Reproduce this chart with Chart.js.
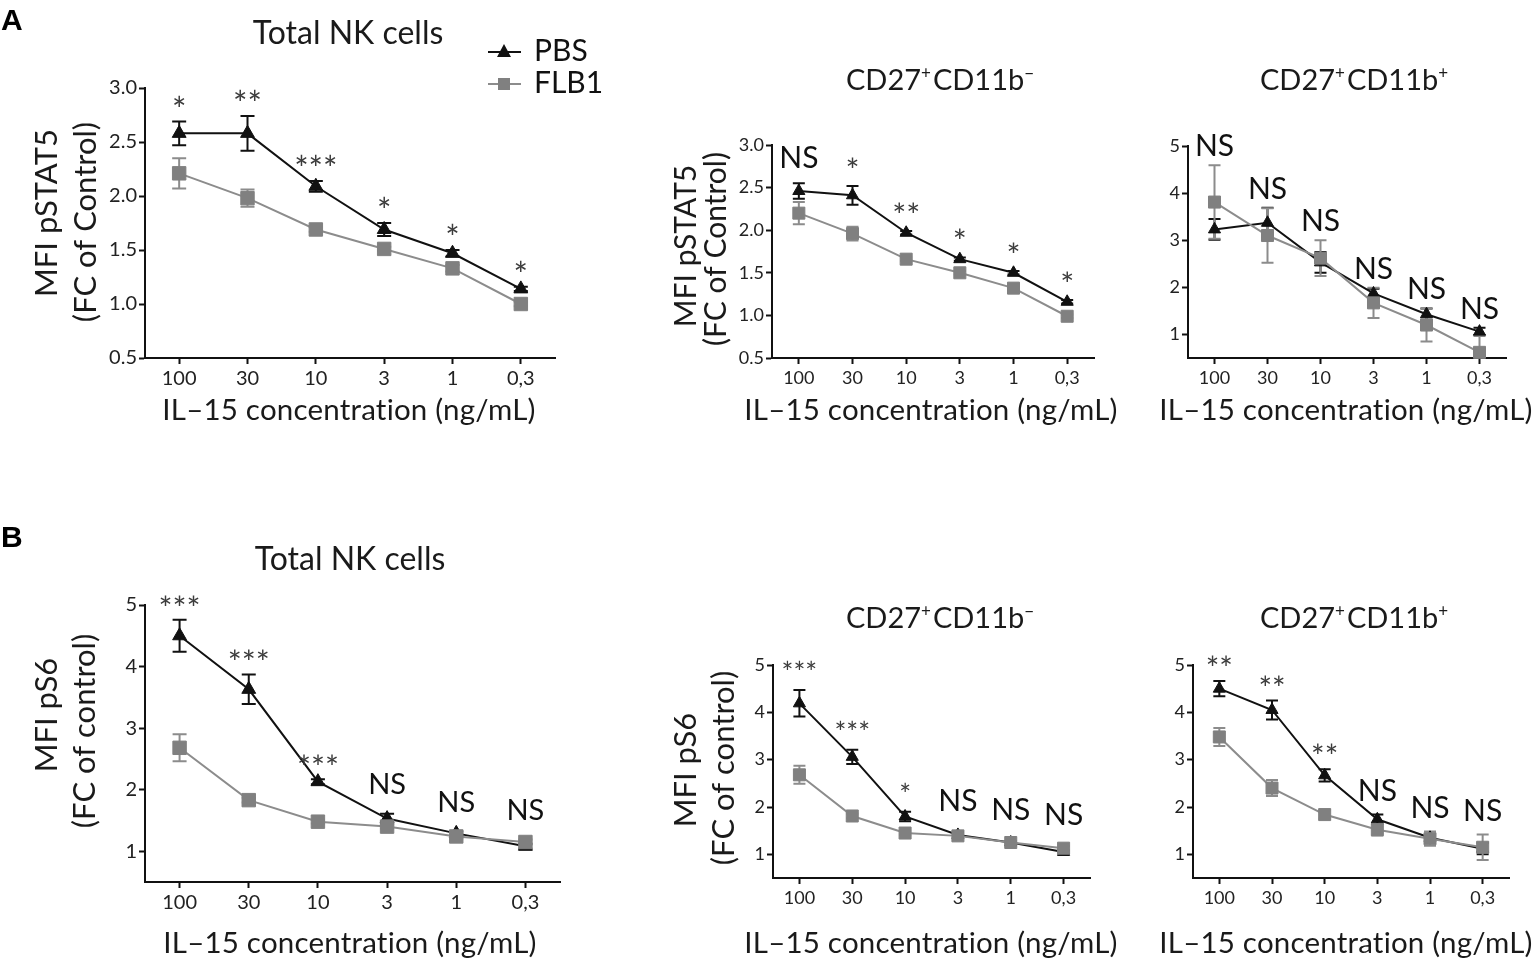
<!DOCTYPE html>
<html><head><meta charset="utf-8">
<script src="https://cdn.jsdelivr.net/npm/chart.js@4.4.1/dist/chart.umd.min.js"></script>
<style>
html,body{margin:0;padding:0;background:#fff;}
#wrap{position:relative;width:1535px;height:970px;overflow:hidden;background:#fff;}
canvas{position:absolute;left:0;top:0;}
</style></head><body><div id="wrap"></div>
<script>
// ---------- data ----------
const doses = ['100', '30', '10', '3', '1', '0,3'];
const seriesNames = ['PBS', 'FLB1'];
const ticksHalf = [0.5, 1.0, 1.5, 2.0, 2.5, 3.0];
const ticksUnit = [1, 2, 3, 4, 5];

// A: pSTAT5, total NK
const a1Pbs    = [2.58, 2.58, 2.09, 1.69, 1.47, 1.14];
const a1PbsErr = [0.11, 0.16, 0.05, 0.06, 0.03, 0.02];
const a1Flb    = [2.21, 1.98, 1.69, 1.51, 1.33, 1.00];
const a1FlbErr = [0.14, 0.08, 0.02, 0.02, 0.03, 0.02];
const a1Sig    = ['*', '**', '***', '*', '*', '*'];
// A: pSTAT5, CD27+ CD11b-
const a2Pbs    = [2.46, 2.41, 1.97, 1.66, 1.50, 1.16];
const a2PbsErr = [0.09, 0.11, 0.02, 0.02, 0.02, 0.02];
const a2Flb    = [2.20, 1.96, 1.66, 1.50, 1.32, 0.99];
const a2FlbErr = [0.13, 0.08, 0.02, 0.02, 0.02, 0.02];
const a2Sig    = ['NS', '*', '**', '*', '*', '*'];
// A: pSTAT5, CD27+ CD11b+
const a3Pbs    = [3.23, 3.37, 2.53, 1.87, 1.43, 1.06];
const a3PbsErr = [0.22, 0.32, 0.22, 0.10, 0.12, 0.08];
const a3Flb    = [3.81, 3.10, 2.62, 1.67, 1.20, 0.62];
const a3FlbErr = [0.78, 0.58, 0.38, 0.32, 0.35, 0.37];
const a3Sig    = ['NS', 'NS', 'NS', 'NS', 'NS', 'NS'];
// B: pS6, total NK
const b1Pbs    = [4.50, 3.63, 2.13, 1.53, 1.29, 1.08];
const b1PbsErr = [0.26, 0.24, 0.04, 0.08, 0.03, 0.04];
const b1Flb    = [2.68, 1.83, 1.48, 1.40, 1.24, 1.15];
const b1FlbErr = [0.22, 0.04, 0.03, 0.03, 0.03, 0.04];
const b1Sig    = ['***', '***', '***', 'NS', 'NS', 'NS'];
// B: pS6, CD27+ CD11b-
const b2Pbs    = [4.19, 3.06, 1.80, 1.41, 1.25, 1.05];
const b2PbsErr = [0.28, 0.15, 0.10, 0.06, 0.03, 0.03];
const b2Flb    = [2.68, 1.81, 1.45, 1.39, 1.25, 1.13];
const b2FlbErr = [0.19, 0.05, 0.04, 0.04, 0.03, 0.04];
const b2Sig    = ['***', '***', '*', 'NS', 'NS', 'NS'];
// B: pS6, CD27+ CD11b+
const b3Pbs    = [4.50, 4.05, 2.67, 1.74, 1.35, 1.12];
const b3PbsErr = [0.16, 0.20, 0.13, 0.10, 0.05, 0.12];
const b3Flb    = [3.48, 2.40, 1.84, 1.52, 1.33, 1.15];
const b3FlbErr = [0.19, 0.17, 0.09, 0.12, 0.15, 0.27];
const b3Sig    = ['**', '**', '**', 'NS', 'NS', 'NS'];

// ---------- layout ----------
const W = 1535, H = 970;
const FONT = "Lato, 'Open Sans', sans-serif";
const INK = '#111111';
const GREY_LINE = '#8c8c8c';
const GREY_FILL = '#808080';

const xTitleText = 'IL\u201315 concentration (ng/mL)';
const titleTotal = [['Total NK cells', 0]];
const titleNeg = [['CD27', 0], ['+', 1], ['CD11b', 0], ['\u2212', 1]];
const titlePos = [['CD27', 0], ['+', 1], ['CD11b', 0], ['+', 1]];

const panels = [
  { pbs: a1Pbs, pbsErr: a1PbsErr, flb: a1Flb, flbErr: a1FlbErr, sig: a1Sig,
    yMin: 0.5, yMax: 3.0, yTicks: ticksHalf, dec: 1,
    area: { l: 145, t: 88, r: 555, b: 358 },
    title: titleTotal, titleX: 348, titleY: 32, titleSize: 32,
    ytitle: ['MFI pSTAT5', '(FC of Control)'], ytX: [47, 86], ytY: [213, 222], ytSize: 31,
    xtX: 349, xtY: 410, xtSize: 29.5, tickSize: 20,
    tri: 8, sq: 9.5, cap: 7, starGap: 20, nsGap: 22, starSize: 34, nsSize: 29,
    legend: true, letter: 'A', letterY: 30 },
  { pbs: a2Pbs, pbsErr: a2PbsErr, flb: a2Flb, flbErr: a2FlbErr, sig: a2Sig,
    yMin: 0.5, yMax: 3.0, yTicks: ticksHalf, dec: 1,
    area: { l: 772, t: 145, r: 1094, b: 358 },
    title: titleNeg, titleX: 941, titleY: 80, titleSize: 29,
    ytitle: ['MFI pSTAT5', '(FC of Control)'], ytX: [686, 716], ytY: [246, 249], ytSize: 30,
    xtX: 931, xtY: 410, xtSize: 29.5, tickSize: 18,
    tri: 7, sq: 8.5, cap: 6, starGap: 24, nsGap: 26, starSize: 33, nsSize: 30 },
  { pbs: a3Pbs, pbsErr: a3PbsErr, flb: a3Flb, flbErr: a3FlbErr, sig: a3Sig,
    yMin: 0.5, yMax: 5, yTicks: ticksUnit, dec: 0,
    area: { l: 1188, t: 146, r: 1506, b: 358 },
    title: titlePos, titleX: 1355, titleY: 80, titleSize: 29,
    ytitle: null,
    xtX: 1346, xtY: 410, xtSize: 29.5, tickSize: 18,
    tri: 7, sq: 8.5, cap: 6, starGap: 22, nsGap: 20, starSize: 30, nsSize: 30 },
  { pbs: b1Pbs, pbsErr: b1PbsErr, flb: b1Flb, flbErr: b1FlbErr, sig: b1Sig,
    yMin: 0.5, yMax: 5, yTicks: ticksUnit, dec: 0,
    area: { l: 145, t: 605, r: 560, b: 882 },
    title: titleTotal, titleX: 350, titleY: 558, titleSize: 32,
    ytitle: ['MFI pS6', '(FC of control)'], ytX: [47, 85], ytY: [715, 731], ytSize: 31,
    xtX: 350, xtY: 943, xtSize: 29.5, tickSize: 20,
    tri: 8, sq: 9.5, cap: 7, starGap: 20, nsGap: 30, starSize: 33, nsSize: 29,
    letter: 'B', letterY: 547 },
  { pbs: b2Pbs, pbsErr: b2PbsErr, flb: b2Flb, flbErr: b2FlbErr, sig: b2Sig,
    yMin: 0.5, yMax: 5, yTicks: ticksUnit, dec: 0,
    area: { l: 773, t: 665, r: 1090, b: 878 },
    title: titleNeg, titleX: 941, titleY: 618, titleSize: 29,
    ytitle: ['MFI pS6', '(FC of control)'], ytX: [686, 724], ytY: [770, 768], ytSize: 31,
    xtX: 931, xtY: 943, xtSize: 29.5, tickSize: 18,
    tri: 7, sq: 8.5, cap: 6, starGap: 24, nsGap: 32, starSize: 28, nsSize: 30 },
  { pbs: b3Pbs, pbsErr: b3PbsErr, flb: b3Flb, flbErr: b3FlbErr, sig: b3Sig,
    yMin: 0.5, yMax: 5, yTicks: ticksUnit, dec: 0,
    area: { l: 1193, t: 665, r: 1509, b: 878 },
    title: titlePos, titleX: 1355, titleY: 618, titleSize: 29,
    ytitle: null,
    xtX: 1346, xtY: 943, xtSize: 29.5, tickSize: 18,
    tri: 7, sq: 8.5, cap: 6, starGap: 20, nsGap: 24, starSize: 32, nsSize: 30 }
];

const LW = 40, XH = 40;

// ---------- plugins ----------
const errorBars = {
  id: 'errorBars',
  beforeDatasetsDraw(chart) {
    const ctx = chart.ctx, ys = chart.scales.y, area = chart.chartArea;
    const p = chart.options.plugins.deco.p;
    chart.data.datasets.forEach((ds, di) => {
      const meta = chart.getDatasetMeta(di);
      ctx.save();
      ctx.strokeStyle = ds.errColor;
      ctx.lineWidth = 2;
      meta.data.forEach((el, i) => {
        const v = ds.data[i], e = ds.errors[i];
        const yt = ys.getPixelForValue(v + e);
        const yb = Math.min(ys.getPixelForValue(v - e), area.bottom);
        ctx.beginPath();
        ctx.moveTo(el.x, yt); ctx.lineTo(el.x, yb);
        ctx.moveTo(el.x - p.cap, yt); ctx.lineTo(el.x + p.cap, yt);
        if (ys.getPixelForValue(v - e) <= area.bottom) {
          ctx.moveTo(el.x - p.cap, yb); ctx.lineTo(el.x + p.cap, yb);
        }
        ctx.stroke();
      });
      ctx.restore();
    });
  }
};

function noLig(ctx) { try { ctx.letterSpacing = '0.2px'; } catch (e) {} }

function drawRich(ctx, parts, cx, cy, size) {
  const big = size + 'px ' + FONT, small = Math.round(size * 0.6) + 'px ' + FONT;
  let total = 0;
  const widths = parts.map(([t, sup]) => { ctx.font = sup ? small : big; const w = ctx.measureText(t).width + (sup ? 2 : 0); total += w; return w; });
  let x = cx - total / 2;
  ctx.textAlign = 'left';
  ctx.textBaseline = 'alphabetic';
  const base = cy + size * 0.36;
  parts.forEach(([t, sup], i) => {
    ctx.font = sup ? small : big;
    ctx.fillText(t, x, sup ? base - size * 0.38 : base);
    x += widths[i];
  });
}

const deco = {
  id: 'deco',
  afterDraw(chart, args, opts) {
    const p = opts.p, ctx = chart.ctx, ys = chart.scales.y, xs = chart.scales.x;
    ctx.save();
    ctx.fillStyle = '#1a1a1a';
    // panel title
    drawRich(ctx, p.title, p.titleX, p.titleY, p.titleSize);
    // x title
    ctx.save();
    noLig(ctx);
    ctx.font = p.xtSize + 'px ' + FONT;
    ctx.textAlign = 'center'; ctx.textBaseline = 'middle';
    ctx.fillText(xTitleText, p.xtX, p.xtY);
    ctx.restore();
    // y title
    if (p.ytitle) {
      ctx.font = p.ytSize + 'px ' + FONT;
      p.ytitle.forEach((line, i) => {
        ctx.save();
        ctx.translate(p.ytX[i], p.ytY[i]);
        ctx.rotate(-Math.PI / 2);
        ctx.textAlign = 'center'; ctx.textBaseline = 'middle';
        ctx.fillText(line, 0, 0);
        ctx.restore();
      });
    }
    // significance labels
    p.sig.forEach((s, i) => {
      const x = xs.getPixelForValue(i);
      let top = Infinity;
      chart.data.datasets.forEach(ds => { top = Math.min(top, ys.getPixelForValue(ds.data[i] + ds.errors[i])); });
      const star = s.indexOf('*') >= 0;
      const size = star ? p.starSize : p.nsSize;
      const cy = top - (star ? p.starGap : p.nsGap);
      ctx.font = size + 'px ' + FONT;
      ctx.textAlign = 'center'; ctx.textBaseline = 'alphabetic';
      ctx.fillStyle = star ? '#3c3c3c' : '#111';
      ctx.fillText(s, x, star ? cy + size * 0.6 : cy + size * 0.36);
    });
    // legend
    if (p.legend) {
      chart.data.datasets.forEach((ds, i) => {
        const y = 52 + i * 32;
        ctx.strokeStyle = ds.borderColor; ctx.lineWidth = 2;
        ctx.beginPath(); ctx.moveTo(488, y); ctx.lineTo(521, y); ctx.stroke();
        ctx.fillStyle = ds.pointBackgroundColor;
        ctx.beginPath();
        if (ds.pointStyle === 'triangle') {
          ctx.moveTo(504, y - 8); ctx.lineTo(511, y + 5); ctx.lineTo(497, y + 5); ctx.closePath();
        } else {
          ctx.rect(498, y - 6, 12, 12);
        }
        ctx.fill();
        ctx.fillStyle = '#111';
        ctx.font = '30px ' + FONT;
        ctx.textAlign = 'left'; ctx.textBaseline = 'middle';
        ctx.fillText(ds.label, 534, y - 1);
      });
    }
    // panel letter
    if (p.letter) {
      ctx.fillStyle = '#000';
      ctx.font = "bold 30px 'Liberation Sans', Arial, sans-serif";
      ctx.textAlign = 'left'; ctx.textBaseline = 'alphabetic';
      ctx.fillText(p.letter, 1, p.letterY);
    }
    ctx.restore();
  }
};

// ---------- charts ----------
const wrap = document.getElementById('wrap');
panels.forEach((p, idx) => {
  const cv = document.createElement('canvas');
  cv.width = W; cv.height = H;
  cv.style.width = W + 'px'; cv.style.height = H + 'px';
  wrap.appendChild(cv);
  const tickFont = { family: FONT, size: p.tickSize };
  new Chart(cv, {
    type: 'line',
    data: {
      labels: doses,
      datasets: [
        { label: seriesNames[0], data: p.pbs, errors: p.pbsErr, errColor: INK,
          borderColor: INK, borderWidth: 2, pointStyle: 'triangle', pointRadius: p.tri,
          pointBackgroundColor: INK, pointBorderColor: INK, pointBorderWidth: 1,
          tension: 0, clip: false, order: 1 },
        { label: seriesNames[1], data: p.flb, errors: p.flbErr, errColor: GREY_LINE,
          borderColor: GREY_LINE, borderWidth: 2, pointStyle: 'rect', pointRadius: p.sq,
          pointBackgroundColor: GREY_FILL, pointBorderColor: GREY_FILL, pointBorderWidth: 1,
          tension: 0, clip: false, order: 0 }
      ]
    },
    options: {
      responsive: false, animation: false, devicePixelRatio: 1,
      layout: { padding: { left: p.area.l - LW, top: p.area.t, right: W - p.area.r, bottom: H - p.area.b - XH } },
      plugins: { legend: { display: false }, tooltip: { enabled: false }, title: { display: false }, deco: { p } },
      events: [],
      scales: {
        x: {
          type: 'category', offset: true,
          grid: { display: true, offset: false, drawOnChartArea: false, drawTicks: true, tickLength: 6, tickWidth: 2, color: INK },
          border: { display: true, color: INK, width: 2 },
          ticks: { font: tickFont, color: '#222', padding: 3, maxRotation: 0, autoSkip: false },
          afterFit: s => { s.height = XH; }
        },
        y: {
          min: p.yMin, max: p.yMax,
          afterBuildTicks: s => { s.ticks = p.yTicks.map(v => ({ value: v })); },
          grid: { display: true, drawOnChartArea: false, drawTicks: true, tickLength: 6, tickWidth: 2, color: INK },
          border: { display: true, color: INK, width: 2 },
          ticks: { font: tickFont, color: '#222', padding: 2, callback: v => Number(v).toFixed(p.dec) },
          afterFit: s => { s.width = LW; }
        }
      }
    },
    plugins: [errorBars, deco]
  });
});
</script>
</body></html>
